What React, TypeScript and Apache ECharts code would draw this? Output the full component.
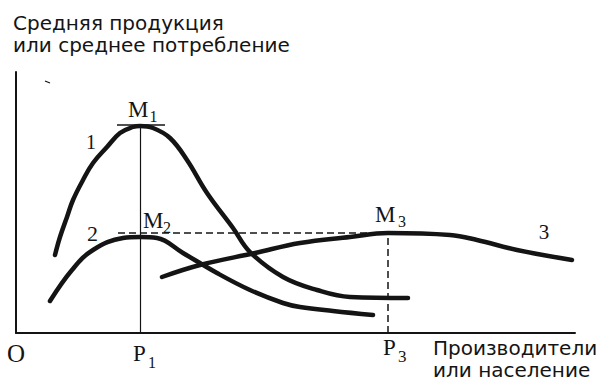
import React, { useEffect, useRef } from "react";
import * as echarts from "echarts";

// Curve 1 (average production / consumption vs producers)
const curve1X = [39, 44, 51, 57, 67, 77, 91, 104, 117, 124, 137, 154, 171, 191, 217, 234, 267, 301, 334, 392];
const curve1Y = [78, 96, 116, 133, 153, 170, 186, 200, 206, 207, 205, 195, 173, 140, 105, 81, 56, 43, 36, 35];
// Curve 2
const curve2X = [34, 56, 77, 107, 124, 141, 167, 201, 234, 267, 284, 317, 357];
const curve2Y = [32, 63, 83, 95, 96, 95, 80, 60, 43, 30, 26, 22, 18];
// Curve 3
const curve3X = [146, 184, 239, 284, 334, 372, 434, 461, 501, 556];
const curve3Y = [56, 68, 80, 90, 96, 100, 98, 93, 83, 73];

// Key points
const P1 = 124;
const P3 = 372;
const M1 = 207;
const M3 = 100;
const dashFromX = 102;
const dashToX = 419;
const tangentM1 = [101, 149];

const X_MAX = 559;
const Y_MAX = 261;

const yTitle = ["Средняя продукция", "или среднее потребление"];
const xTitle = ["Производители", "или население"];

const toPairs = (xs: number[], ys: number[]) => xs.map((x, i) => [x, ys[i]]);

export default function App() {
  const ref = useRef<HTMLDivElement>(null);
  useEffect(() => {
    const chart = echarts.init(ref.current!, null, { renderer: "svg" });
    const ink = "#141414";
    const curveStyle = { width: 4.5, color: ink, cap: "round" as const, join: "round" as const };
    const curve = (name: string, xs: number[], ys: number[]) => ({
      type: "line",
      name,
      data: toPairs(xs, ys),
      smooth: 0.4,
      showSymbol: false,
      symbol: "none",
      lineStyle: curveStyle,
    });
    chart.setOption({
      animation: false,
      backgroundColor: "#ffffff",
      grid: { left: 16, right: 25, top: 72, bottom: 52, containLabel: false },
      xAxis: {
        type: "value",
        min: 0,
        max: X_MAX,
        axisLine: { show: true, onZero: false, lineStyle: { color: ink, width: 2 } },
        axisTick: { show: false },
        axisLabel: { show: false },
        splitLine: { show: false },
      },
      yAxis: {
        type: "value",
        min: 0,
        max: Y_MAX,
        axisLine: { show: true, onZero: false, lineStyle: { color: ink, width: 2 } },
        axisTick: { show: false },
        axisLabel: { show: false },
        splitLine: { show: false },
      },
      series: [
        {
          type: "line",
          name: "guides",
          data: [],
          silent: true,
          markLine: {
            silent: true,
            symbol: ["none", "none"],
            label: { show: false },
            animation: false,
            data: [
              [
                { coord: [P1, 0], lineStyle: { type: "solid", width: 1.2, color: ink } },
                { coord: [P1, M1] },
              ],
              [
                { coord: [tangentM1[0], M1 + 1], lineStyle: { type: "solid", width: 1.6, color: ink } },
                { coord: [tangentM1[1], M1 + 1] },
              ],
              [
                { coord: [dashFromX, M3], lineStyle: { type: [7, 4], width: 1.5, color: ink } },
                { coord: [dashToX, M3] },
              ],
              [
                { coord: [P3, 0], lineStyle: { type: [7, 4], width: 1.5, color: ink } },
                { coord: [P3, M3] },
              ],
            ],
          },
        },
        curve("1", curve1X, curve1Y),
        curve("2", curve2X, curve2Y),
        curve("3", curve3X, curve3Y),
      ],
    });

    const px = (x: number, y: number) => chart.convertToPixel({ gridIndex: 0 }, [x, y]) as number[];
    const serif = "'Liberation Serif', 'DejaVu Serif', serif";
    const sans = "'DejaVu Sans', 'Noto Sans', sans-serif";
    const txt = (
      text: string,
      p: number[],
      dx: number,
      dy: number,
      size: number,
      family: string,
      align: string = "left"
    ) => ({
      type: "text",
      x: p[0] + dx,
      y: p[1] + dy,
      silent: true,
      style: {
        text,
        fontSize: size,
        fontFamily: family,
        fill: ink,
        align,
        verticalAlign: "middle",
      },
    });

    const pM1 = px(P1, M1);
    const pM2 = px(P1, curve2Y[curve2X.indexOf(P1)]);
    const pM3 = px(P3, M3);
    const pP1 = px(P1, 0);
    const pP3 = px(P3, 0);
    const pO = px(0, 0);
    const pTop = px(0, Y_MAX);
    const pRight = px(X_MAX, 0);

    chart.setOption({
      graphic: [
        txt(yTitle[0], pTop, -3, -49, 20, sans),
        txt(yTitle[1], pTop, -3, -27, 20, sans),
        txt(xTitle[0], pRight, -142, 14.5, 20, sans),
        txt(xTitle[1], pRight, -142, 37, 20, sans),
        txt("O", pO, 0, 20.5, 25, serif, "center"),
        txt("P", pP1, -7, 20.5, 23, serif),
        txt("1", pP1, 8, 29, 16, serif),
        txt("P", pP3, -5, 14, 23, serif),
        txt("3", pP3, 10, 23, 17, serif),
        txt("M", pM1, -12, -16.5, 23, serif),
        txt("1", pM1, 9.5, -10, 16, serif),
        txt("M", pM2, 3, -16.5, 23, serif),
        txt("2", pM2, 23, -10, 16, serif),
        txt("M", pM3, -13, -19, 23, serif),
        txt("3", pM3, 10, -12, 16, serif),
        txt("1", px(curve1X[6], curve1Y[6]), -16, -5, 20, serif, "center"),
        txt("2", px(curve2X[2], curve2Y[2]), -0.5, -16.5, 22, serif, "center"),
        txt("3", px(curve3X[8], curve3Y[8]), 27, -18, 21, serif, "center"),
        {
          type: "line",
          silent: true,
          shape: { x1: pTop[0] + 29, y1: pTop[1] + 9, x2: pTop[0] + 34, y2: pTop[1] + 11 },
          style: { stroke: ink, lineWidth: 1.3 },
        },
      ],
    });
    return () => chart.dispose();
  }, []);
  return (
    <div
      ref={ref}
      style={{ position: "fixed", left: 0, top: 0, width: 600, height: 385, background: "#fff" }}
    />
  );
}
